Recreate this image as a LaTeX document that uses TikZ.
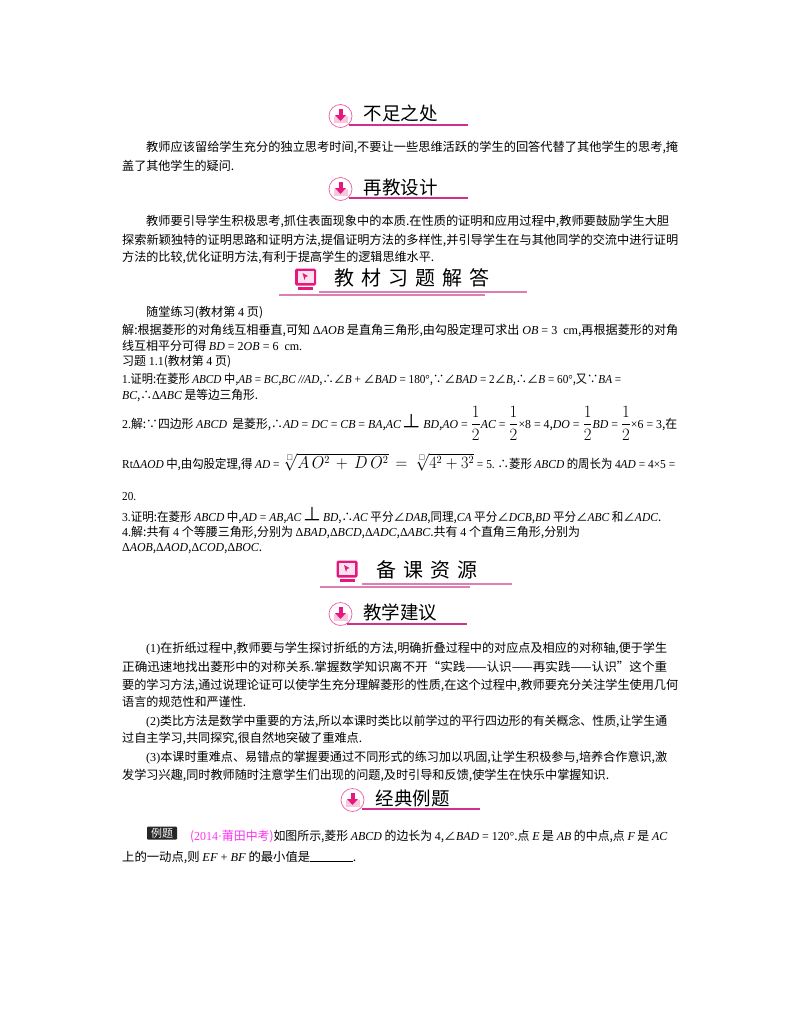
\documentclass[tikz,border=0pt]{standalone}
\usepackage{amsmath}
\usepackage{amssymb}
\usepackage{graphicx}
\usepackage{fontspec}
\usepackage{tikz}
\usetikzlibrary{positioning}
\setmainfont{Noto Sans CJK SC}
\newfontfamily\latinfont{Liberation Serif}
\definecolor{iconmag}{HTML}{E6177F}
\definecolor{iconpale}{HTML}{F8C8DC}
\definecolor{rulemag}{HTML}{D0308C}
\definecolor{rulepale}{HTML}{DD7FB2}
\definecolor{srcmag}{HTML}{FF30F0}
\newcommand{\en}[1]{{\latinfont #1}}
\newcommand{\mi}[1]{{\latinfont\itshape #1}}
\newcommand{\tri}[1]{\en{Δ}\mi{#1}}
\newcommand{\fitw}[2]{\resizebox{#1pt}{\height}{#2}}
\newcommand{\half}{{\fontsize{17}{17}\selectfont$\dfrac{1}{2}$}}
\newcommand{\gp}{\hspace{7pt}}
\tikzset{
  txtline/.style={anchor=north west, inner sep=0pt, text height=9.5pt, text depth=2.5pt,
    font=\fontsize{12.2}{14}\selectfont},
  headtxt/.style={anchor=center, inner sep=0pt, font=\fontsize{18.5}{20}\selectfont},
  bigtxt/.style={anchor=center, inner sep=0pt, font=\fontsize{20}{22}\selectfont},
  headrule/.style={draw=rulemag, line width=1.4pt},
  palerule/.style={draw=rulepale, line width=1.2pt},
  arrowicon/.pic={
    \draw[draw=iconmag!70, fill=white, line width=.7pt] (0,0) circle (11.5);
    \fill[iconpale] (-7,0) rectangle (7,7);
    \fill[iconmag] (-2,-7) rectangle (2,-1);
    \fill[iconmag] (-5.5,-1) -- (5.5,-1) -- (0,5) -- cycle;
  },
  screenicon/.pic={
    \fill[iconmag, rounded corners=1.5pt] (-10.5,-10.5) rectangle (10.5,6.5);
    \fill[iconpale!50] (-8,-8) rectangle (8,3.5);
    \fill[iconmag] (-3,-6) -- (2.5,-3) -- (0,-2) -- (-1,1) -- cycle;
    \fill[iconmag] (-7.5,8) rectangle (7.5,10.5);
  }
}
\begin{document}
\begin{tikzpicture}[x=1pt, y=-1pt]
\useasboundingbox (0,0) rectangle (800,1028);
% section: 不足之处
\pic at (340.5,116) {arrowicon};
\node[headtxt] (h1) at (400.5,113) {不足之处};
\draw[headrule] (349,125) -- (468,125);
\node[txtline] (a1) at (146,142) {\fitw{532}{教师应该留给学生充分的独立思考时间,不要让一些思维活跃的学生的回答代替了其他学生的思考,掩}};
\node[txtline, below=6pt of a1.south west, anchor=north west, xshift=-24pt] (a2) {\fitw{112}{盖了其他学生的疑问.}};
% section: 再教设计
\pic at (340.5,189) {arrowicon};
\node[headtxt] (h2) at (400.5,187) {再教设计};
\draw[headrule] (349,198) -- (468,198);
\node[txtline] (b1) at (146,216) {\fitw{523}{教师要引导学生积极思考,抓住表面现象中的本质.在性质的证明和应用过程中,教师要鼓励学生大胆}};
\node[txtline, below=6pt of b1.south west, anchor=north west, xshift=-24pt] (b2) {\fitw{556}{探索新颖独特的证明思路和证明方法,提倡证明方法的多样性,并引导学生在与其他同学的交流中进行证明}};
\node[txtline, below=5pt of b2.south west, anchor=north west] (b3) {\fitw{312}{方法的比较,优化证明方法,有利于提高学生的逻辑思维水平.}};
% section: 教材习题解答
\pic at (305.5,279) {screenicon};
\node[bigtxt] (h3) at (412,278) {教\gp 材\gp 习\gp 题\gp 解\gp 答};
\draw[palerule] (319,292) -- (527,292);
\draw[palerule] (279,295) -- (485,295);
\node[txtline] (c1) at (146,307) {\fitw{117}{随堂练习(教材第 \en{4} 页)}};
\node[txtline, below=5pt of c1.south west, anchor=north west, xshift=-24pt] (c2) {\fitw{556}{解:根据菱形的对角线互相垂直,可知 \tri{AOB} 是直角三角形,由勾股定理可求出 \mi{OB}\en{ = 3\ \ cm},再根据菱形的对角}};
\node[txtline, below=4pt of c2.south west, anchor=north west] (c3) {\fitw{180}{线互相平分可得 \mi{BD}\en{ = 2}\mi{OB}\en{ = 6\ \ cm.}}};
\node[txtline, below=3pt of c3.south west, anchor=north west] (c4) {\fitw{109}{习题 \en{1.1}(教材第 \en{4} 页)}};
\node[txtline, below=5pt of c4.south west, anchor=north west] (c5) {\fitw{499}{\en{1.}证明:在菱形 \mi{ABCD} 中,\mi{AB}\en{ = }\mi{BC},\mi{BC} \mi{//}\mi{AD},∴∠\mi{B}\en{ + }∠\mi{BAD}\en{ = 180°},∵∠\mi{BAD}\en{ = 2}∠\mi{B},∴∠\mi{B}\en{ = 60°},又∵\mi{BA}\en{ =}}};
\node[txtline, below=4pt of c5.south west, anchor=north west] (c6) {\fitw{136}{\mi{BC},∴\tri{ABC} 是等边三角形.}};
\node[txtline] (d1) at (122,419) {\fitw{555}{\en{2.}解:∵四边形 \mi{ABCD} \ 是菱形,∴\mi{AD}\en{ = }\mi{DC}\en{ = }\mi{CB}\en{ = }\mi{BA},\mi{AC}\,{\fontsize{19}{19}\selectfont⊥}\,\mi{BD},\mi{AO}\en{ = }\half\mi{AC}\en{ = }\half\en{×8 = 4},\mi{DO}\en{ = }\half\mi{BD}\en{ = }\half\en{×6 = 3},在}};
\node[txtline] (d2) at (122,459) {\fitw{553}{\en{Rt}\tri{AOD} 中,由勾股定理,得 \mi{AD}\en{ = }{\fontsize{16}{16}\selectfont$\sqrt[\scriptscriptstyle\square]{A\,O^{2}\,+\,D\,O^{2}}\,=\,\sqrt[\scriptscriptstyle\square]{4^{2}+3^{2}}$}\en{ = 5.\ }∴菱形 \mi{ABCD} 的周长为 \en{4}\mi{AD}\en{ = 4×5 =}}};
\node[txtline] (d3) at (122,491) {\fitw{14}{\en{20.}}};
\node[txtline] (e1) at (122,512) {\fitw{539}{\en{3.}证明:在菱形 \mi{ABCD} 中,\mi{AD}\en{ = }\mi{AB},\mi{AC}\,{\fontsize{19}{19}\selectfont⊥}\,\mi{BD},∴\mi{AC} 平分∠\mi{DAB},同理,\mi{CA} 平分∠\mi{DCB},\mi{BD} 平分∠\mi{ABC} 和∠\mi{ADC}.}};
\node[txtline, below=2pt of e1.south west, anchor=north west] (e2) {\fitw{458}{\en{4.}解:共有 \en{4} 个等腰三角形,分别为 \tri{BAD},\tri{BCD},\tri{ADC},\tri{ABC}.共有 \en{4} 个直角三角形,分别为}};
\node[txtline, below=3pt of e2.south west, anchor=north west] (e3) {\fitw{140}{\tri{AOB},\tri{AOD},\tri{COD},\tri{BOC}.}};
% section: 备课资源
\pic at (347,571) {screenicon};
\node[bigtxt] (h4) at (427,570) {备\gp 课\gp 资\gp 源};
\draw[palerule] (362,584) -- (512,584);
\draw[palerule] (320,587) -- (470,587);
% section: 教学建议
\pic at (340.5,614) {arrowicon};
\node[headtxt] (h5) at (400,612) {教学建议};
\draw[headrule] (347,624) -- (467,624);
\node[txtline] (f1) at (146,643) {\fitw{521}{\en{(1)}在折纸过程中,教师要与学生探讨折纸的方法,明确折叠过程中的对应点及相应的对称轴,便于学生}};
\node[txtline, below=6pt of f1.south west, anchor=north west, xshift=-24pt] (f2) {\fitw{545}{正确迅速地找出菱形中的对称关系.掌握数学知识离不开“实践——认识——再实践——认识”这个重}};
\node[txtline, below=6pt of f2.south west, anchor=north west] (f3) {\fitw{556}{要的学习方法,通过说理论证可以使学生充分理解菱形的性质,在这个过程中,教师要充分关注学生使用几何}};
\node[txtline, below=5pt of f3.south west, anchor=north west] (f4) {\fitw{124}{语言的规范性和严谨性.}};
\node[txtline, below=6pt of f4.south west, anchor=north west, xshift=24pt] (f5) {\fitw{521}{\en{(2)}类比方法是数学中重要的方法,所以本课时类比以前学过的平行四边形的有关概念、性质,让学生通}};
\node[txtline, below=5pt of f5.south west, anchor=north west, xshift=-24pt] (f6) {\fitw{240}{过自主学习,共同探究,很自然地突破了重难点.}};
\node[txtline, below=6pt of f6.south west, anchor=north west, xshift=24pt] (f7) {\fitw{521}{\en{(3)}本课时重难点、易错点的掌握要通过不同形式的练习加以巩固,让学生积极参与,培养合作意识,激}};
\node[txtline, below=6pt of f7.south west, anchor=north west, xshift=-24pt] (f8) {\fitw{487}{发学习兴趣,同时教师随时注意学生们出现的问题,及时引导和反馈,使学生在快乐中掌握知识.}};
% section: 经典例题
\pic at (352.5,800) {arrowicon};
\node[headtxt] (h6) at (412.5,798) {经典例题};
\draw[headrule] (362,809) -- (480,809);
\node[inner sep=0pt, fill=black!85, rounded corners=1pt, text=white, minimum width=30pt, minimum height=13pt, font=\fontsize{11}{12}\selectfont] (ex) at (162,833) {例题};
\node[txtline] (g1) at (190,831) {\fitw{477}{\textcolor{srcmag}{(\en{2014·}莆田中考)}如图所示,菱形 \mi{ABCD} 的边长为 \en{4},∠\mi{BAD}\en{ = 120°}.点 \mi{E} 是 \mi{AB} 的中点,点 \mi{F} 是 \mi{AC}}};
\node[txtline, below=8pt of g1.south west, anchor=north west, xshift=-68pt] (g2) {\fitw{234}{上的一动点,则 \mi{EF}\en{ + }\mi{BF} 的最小值是\rule{42pt}{.6pt}.}};
\end{tikzpicture}
\end{document}
